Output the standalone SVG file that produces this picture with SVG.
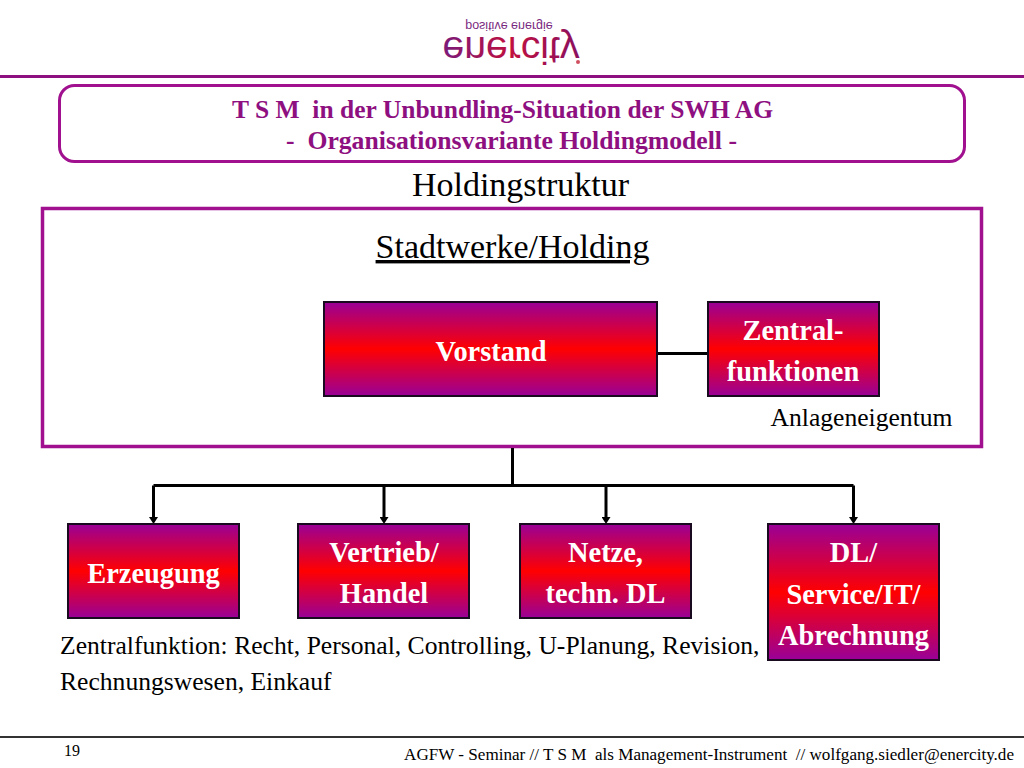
<svg xmlns="http://www.w3.org/2000/svg" width="1024" height="768" viewBox="0 0 1024 768">
<style>
text{font-family:"Liberation Serif","Times New Roman",serif;fill:#000}
.box{fill:url(#g);stroke:#1a0a20;stroke-width:2}
.lbl{fill:#fff;font-weight:bold;font-size:28.400px;text-anchor:middle}
.ttl{fill:#8e0f80;font-weight:bold;font-size:25.700px}
.con{fill:none;stroke:#000;stroke-width:3}
</style>
<defs>
<linearGradient id="g" x1="0" y1="0" x2="0" y2="1">
<stop offset="0" stop-color="#990098"/><stop offset=".5" stop-color="#ff0000"/><stop offset="1" stop-color="#990098"/>
</linearGradient>
<linearGradient id="lg" x1="0" y1="0" x2="1" y2="0">
<stop offset="0" stop-color="#7a1a7a"/><stop offset=".5" stop-color="#c01040"/><stop offset="1" stop-color="#8a1060"/>
</linearGradient>
<marker id="a" markerWidth="7" markerHeight="9" refX="0" refY="4.500" orient="auto" markerUnits="userSpaceOnUse" viewBox="0 0 7 9"><path d="M0 0L7 4.500L0 9Z" fill="#000"/></marker>
</defs>
<rect width="1024" height="768" fill="#fff"/>
<g id="logo">
<text transform="translate(509,22) scale(1,-1)" text-anchor="middle" style="font-family:'Liberation Sans',sans-serif;fill:#7a2a80;font-size:12.500px">positive energie</text>
<text transform="translate(511,37) scale(1,-1.100)" text-anchor="middle" style="font-family:'Liberation Sans',sans-serif;fill:url(#lg);font-size:35px" textLength="137" lengthAdjust="spacingAndGlyphs">enercity</text>
<circle cx="578" cy="62" r="2" fill="#d05060"/>
</g>
<rect x="0" y="75" width="1024" height="3" fill="#8e0f80"/>
<g id="title">
<rect x="59.500" y="85.500" width="905" height="76" rx="15" fill="#fff" stroke="#a0108f" stroke-width="3"/>
<text class="ttl" x="232" y="118" xml:space="preserve" textLength="541" lengthAdjust="spacingAndGlyphs">T S M  in der Unbundling-Situation der SWH AG</text>
<text class="ttl" x="286" y="149" xml:space="preserve">-  Organisationsvariante Holdingmodell -</text>
</g>
<text x="520.500" y="196" font-size="34" text-anchor="middle">Holdingstruktur</text>
<g id="holding">
<rect x="42.500" y="208.500" width="939" height="238" fill="#fff" stroke="#a0108f" stroke-width="3.500"/>
<text x="512.500" y="258" font-size="34" text-anchor="middle" text-decoration="underline">Stadtwerke/Holding</text>
<text x="861.500" y="426" font-size="25.600" text-anchor="middle">Anlageneigentum</text>
</g>
<g id="connectors">
<path class="con" d="M657 353.500H708"/>
<path class="con" d="M512.500 448V486"/>
<path class="con" d="M153.500 485.500H853.500"/>
<path class="con" d="M153.500 485.500V517" marker-end="url(#a)"/>
<path class="con" d="M384 485.500V517" marker-end="url(#a)"/>
<path class="con" d="M606 485.500V517" marker-end="url(#a)"/>
<path class="con" d="M853.500 485.500V517" marker-end="url(#a)"/>
</g>
<g id="vorstand"><rect class="box" x="324" y="302" width="333" height="94"/><text class="lbl" x="491" y="360.500">Vorstand</text></g>
<g id="zentral"><rect class="box" x="708" y="302" width="171" height="94"/><text class="lbl" x="793" y="339.500">Zentral-</text><text class="lbl" x="793" y="380.500">funktionen</text></g>
<g id="erzeugung"><rect class="box" x="68" y="524" width="171" height="94"/><text class="lbl" x="153.500" y="582.500">Erzeugung</text></g>
<g id="vertrieb"><rect class="box" x="298" y="524" width="171" height="94"/><text class="lbl" x="384" y="561.500">Vertrieb/</text><text class="lbl" x="384" y="602.500">Handel</text></g>
<g id="netze"><rect class="box" x="520" y="524" width="171" height="94"/><text class="lbl" x="605.500" y="561.500">Netze,</text><text class="lbl" x="605.500" y="602.500">techn. DL</text></g>
<g id="dl"><rect class="box" x="768" y="524" width="171" height="136"/><text class="lbl" x="853.500" y="561.500">DL/</text><text class="lbl" x="853.500" y="603.500">Service/IT/</text><text class="lbl" x="853.500" y="644.500">Abrechnung</text></g>
<text x="60" y="654" font-size="25.600">Zentralfunktion: Recht, Personal, Controlling, U-Planung, Revision,</text>
<text x="60" y="690" font-size="25.600">Rechnungswesen, Einkauf</text>
<rect x="0" y="736" width="1024" height="2" fill="#333"/>
<text x="64" y="756" font-size="16">19</text>
<text x="1014" y="760" font-size="17.100" text-anchor="end" xml:space="preserve">AGFW - Seminar // T S M  als Management-Instrument  // wolfgang.siedler@enercity.de</text>
</svg>
